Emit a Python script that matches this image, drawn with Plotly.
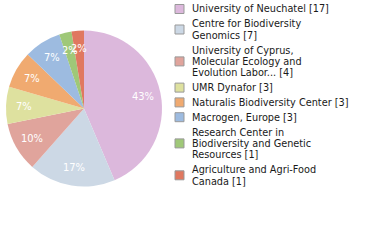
import math
import plotly.graph_objects as go

labels = [
    "University of Neuchatel",
    "Centre for Biodiversity Genomics",
    "University of Cyprus, Molecular Ecology and Evolution Labor...",
    "UMR Dynafor",
    "Naturalis Biodiversity Center",
    "Macrogen, Europe",
    "Research Center in Biodiversity and Genetic Resources",
    "Agriculture and Agri-Food Canada",
]
legend_lines = [
    ["University of Neuchatel [17]"],
    ["Centre for Biodiversity", "Genomics [7]"],
    ["University of Cyprus,", "Molecular Ecology and", "Evolution Labor... [4]"],
    ["UMR Dynafor [3]"],
    ["Naturalis Biodiversity Center [3]"],
    ["Macrogen, Europe [3]"],
    ["Research Center in", "Biodiversity and Genetic", "Resources [1]"],
    ["Agriculture and Agri-Food", "Canada [1]"],
]
values = [17, 7, 4, 3, 3, 3, 1, 1]
colors = ["#dcb8dc", "#ccd8e5", "#e0a49c", "#dee19f", "#f0aa70", "#9dbbe0", "#9fc878", "#e07860"]

W, H = 380, 240
FONT = "DejaVu Sans Condensed, DejaVu Sans, sans-serif"
CX, CY, R = 84.0, 108.5, 78.0

total = sum(values)
texts = [f"{int(v * 100 / total)}%" for v in values]

fig = go.Figure()
fig.add_trace(go.Pie(
    labels=labels,
    values=values,
    textinfo="none",
    marker=dict(colors=colors, line=dict(width=0)),
    sort=False,
    direction="clockwise",
    rotation=0,
    showlegend=False,
    hoverinfo="label+value+percent",
    domain=dict(x=[(CX - R) / W, (CX + R) / W], y=[1 - (CY + R) / H, 1 - (CY - R) / H]),
))

shapes = []
annotations = []

# percent labels placed along each slice bisector
cum = 0.0
for v, t in zip(values, texts):
    mid = (cum + v / 2) / total * 2 * math.pi
    cum += v
    px = CX + 0.77 * R * math.sin(mid)
    py = CY - 0.77 * R * math.cos(mid)
    annotations.append(dict(
        xref="paper", yref="paper", x=px / W, y=1 - py / H,
        xanchor="center", yanchor="middle", showarrow=False,
        text=t, font=dict(size=11, color="white", family=FONT),
    ))

line_h = 11.4
gap = 3.4
y = 9.0
for lines, col in zip(legend_lines, colors):
    n = len(lines)
    cy = y + (n - 1) * line_h / 2
    shapes.append(dict(
        type="rect", xref="paper", yref="paper",
        x0=175 / W, x1=184 / W, y0=1 - (cy - 4.5) / H, y1=1 - (cy + 4.5) / H,
        fillcolor=col, line=dict(color="#999999", width=1),
    ))
    for i, ln in enumerate(lines):
        annotations.append(dict(
            xref="paper", yref="paper", x=191 / W, y=1 - (y + i * line_h) / H,
            xanchor="left", yanchor="middle", showarrow=False, align="left",
            borderpad=0,
            text=ln, font=dict(size=10.8, color="#1a1a1a", family=FONT),
        ))
    y += n * line_h + gap

fig.update_layout(
    width=W, height=H,
    margin=dict(l=0, r=0, t=0, b=0),
    paper_bgcolor="white",
    plot_bgcolor="white",
    shapes=shapes,
    annotations=annotations,
)

fig.write_html("out.html", config={"displayModeBar": False},
               post_script="document.body.style.margin='0';")
